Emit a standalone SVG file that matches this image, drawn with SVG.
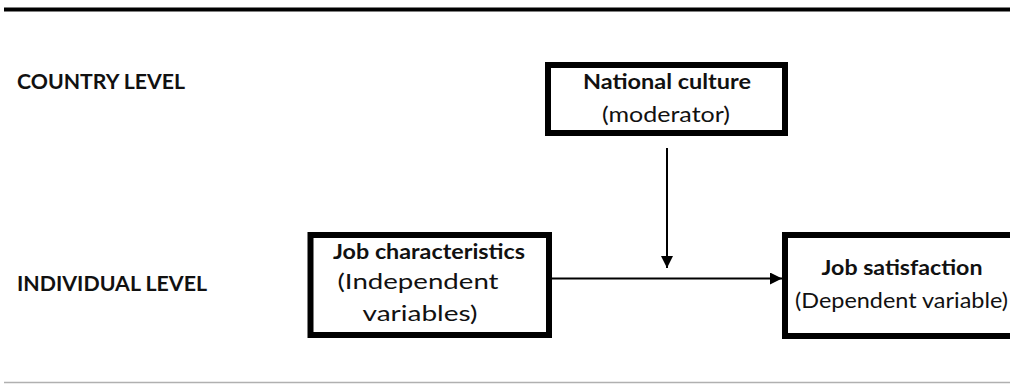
<svg xmlns="http://www.w3.org/2000/svg" width="1010" height="384" viewBox="0 0 1010 384">
<style>
.t{font-family:Lato,"Open Sans","Liberation Sans",sans-serif;font-size:21px;fill:#111;}
.b{font-weight:bold;}
.box{fill:#fff;stroke:#000;stroke-width:6;}
.conn{stroke:#000;stroke-width:2;fill:none;}
</style>
<defs>
<marker id="ah" markerWidth="12" markerHeight="12" refX="12" refY="6" orient="auto" markerUnits="userSpaceOnUse">
<path d="M0,0 L12,6 L0,12 Z" fill="#000"/>
</marker>
</defs>
<rect width="1010" height="384" fill="#fff"/>
<line x1="4" y1="9.5" x2="1010" y2="9.5" stroke="#000" stroke-width="4"/>
<line x1="4" y1="382.5" x2="1010" y2="382.5" stroke="#b0b0b0" stroke-width="1.5"/>
<g id="label-country">
<text class="t b" x="17" y="89" textLength="168" lengthAdjust="spacingAndGlyphs">COUNTRY LEVEL</text>
</g>
<g id="label-individual">
<text class="t b" x="17" y="291" textLength="190" lengthAdjust="spacingAndGlyphs">INDIVIDUAL LEVEL</text>
</g>
<g id="national-culture">
<rect class="box" x="548" y="65" width="237" height="68"/>
<text class="t b" x="667" y="89" text-anchor="middle" textLength="168" lengthAdjust="spacingAndGlyphs">National culture</text>
<text class="t" x="666" y="122" text-anchor="middle" textLength="128" lengthAdjust="spacingAndGlyphs">(moderator)</text>
</g>
<g id="job-characteristics">
<rect class="box" x="310.5" y="235" width="238.5" height="100"/>
<text class="t b" x="429" y="259" text-anchor="middle" textLength="192" lengthAdjust="spacingAndGlyphs">Job characteristics</text>
<text class="t" x="418" y="289" text-anchor="middle" textLength="161" lengthAdjust="spacingAndGlyphs">(Independent</text>
<text class="t" x="420" y="321" text-anchor="middle" textLength="115" lengthAdjust="spacingAndGlyphs">variables)</text>
</g>
<g id="job-satisfaction">
<rect class="box" x="785" y="235" width="240" height="101"/>
<text class="t b" x="902" y="275" text-anchor="middle" textLength="161" lengthAdjust="spacingAndGlyphs">Job satisfaction</text>
<text class="t" x="901.5" y="308" text-anchor="middle" textLength="213" lengthAdjust="spacingAndGlyphs">(Dependent variable)</text>
</g>
<g id="connectors">
<line class="conn" x1="552" y1="278.5" x2="782" y2="278.5" marker-end="url(#ah)"/>
<line class="conn" x1="667" y1="148" x2="667" y2="268" marker-end="url(#ah)"/>
</g>
</svg>
